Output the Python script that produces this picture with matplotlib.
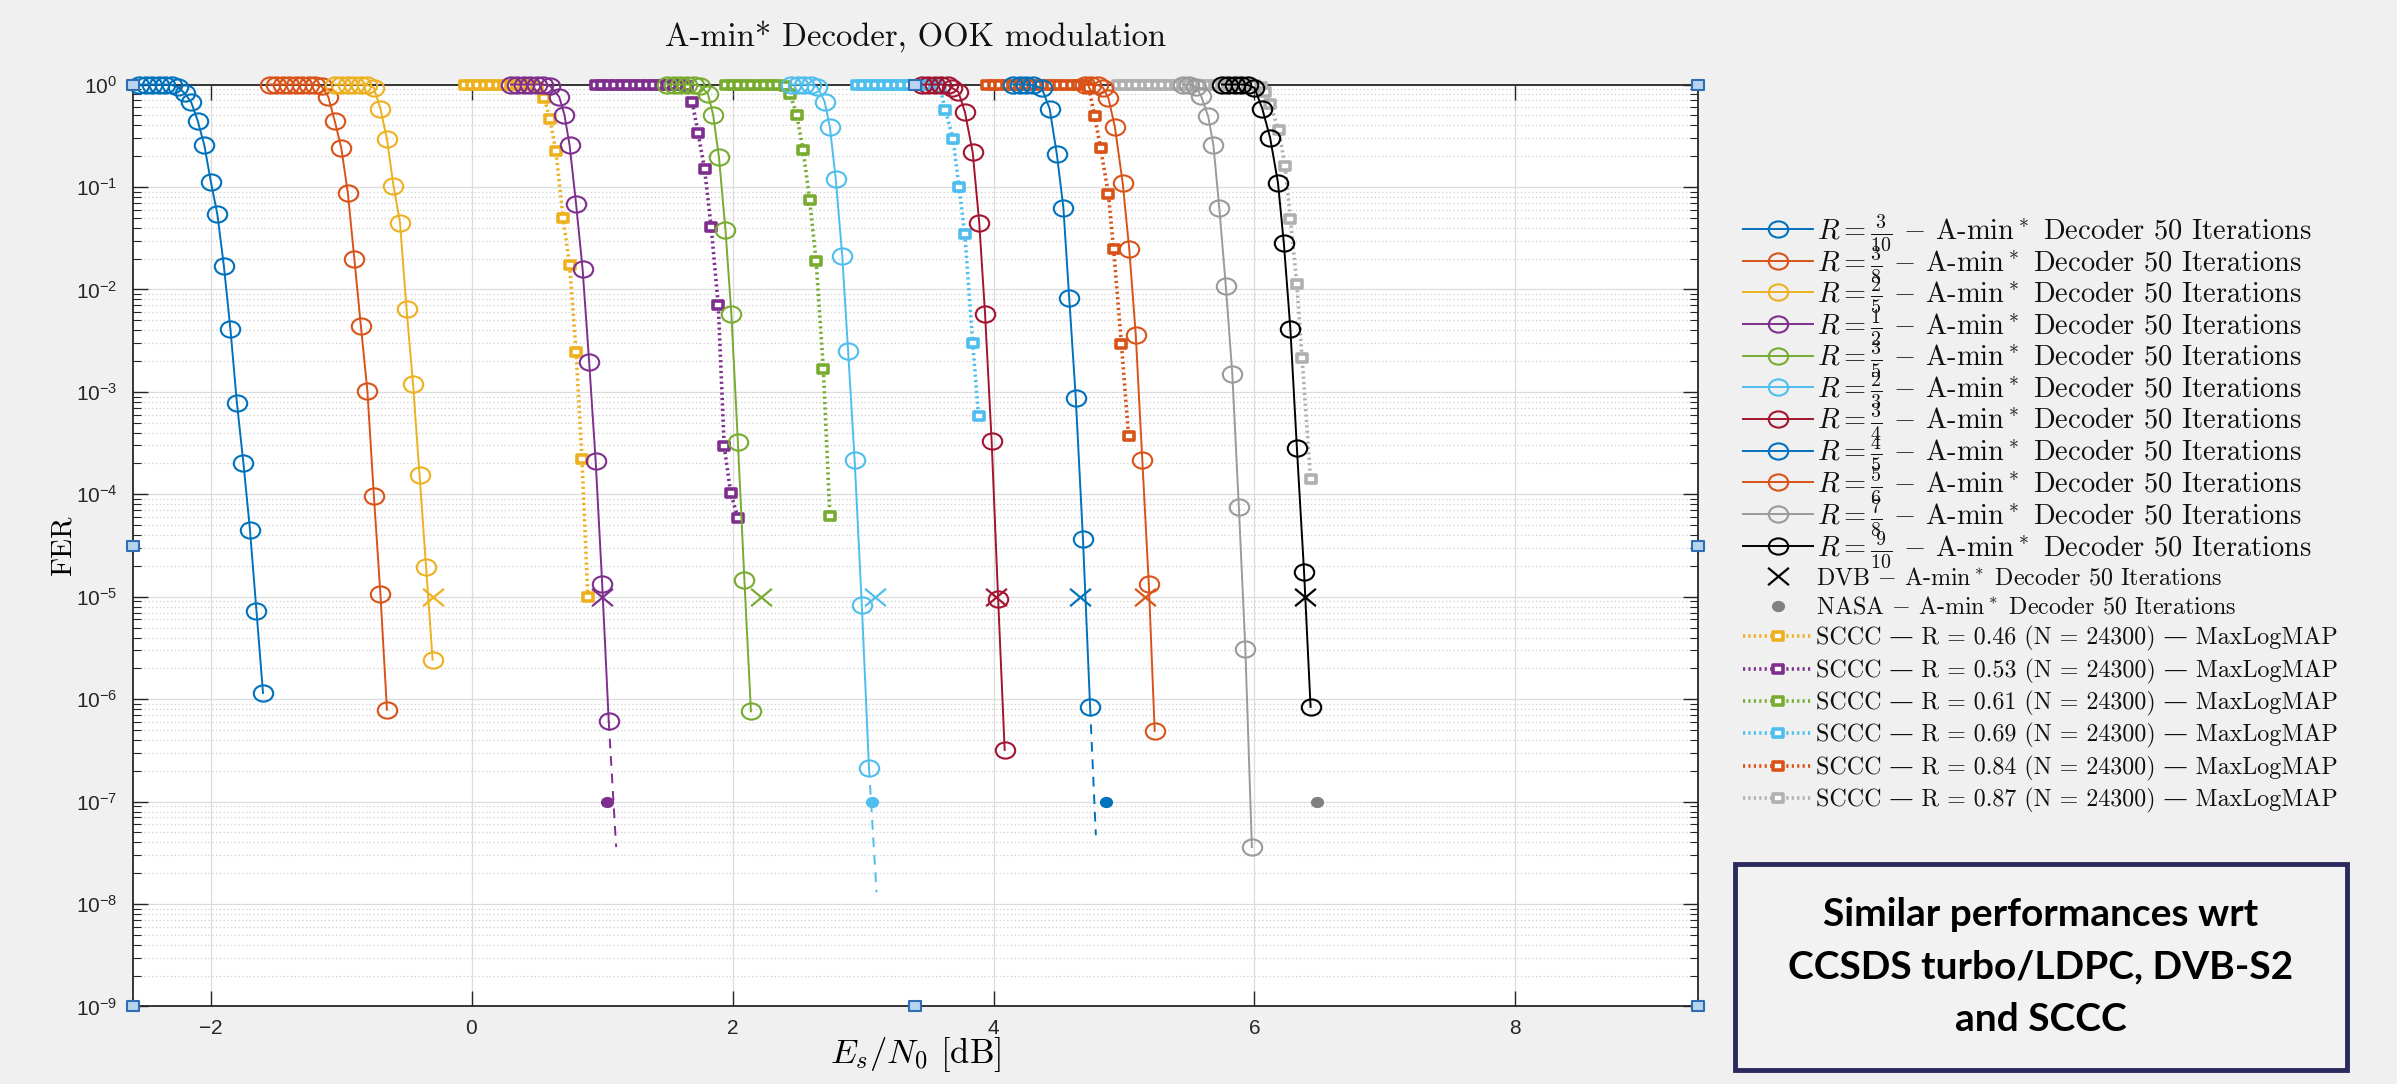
import numpy as np
import matplotlib
matplotlib.use('Agg')
import matplotlib.pyplot as plt
from matplotlib.path import Path
from matplotlib.transforms import Affine2D
from matplotlib.lines import Line2D
from matplotlib.patches import Rectangle
from matplotlib.ticker import LogLocator, NullLocator, NullFormatter

plt.rcParams['mathtext.fontset'] = 'dejavusans'
plt.rcParams['axes.formatter.use_mathtext'] = True
serif = ['cmr10', 'DejaVu Serif']

# ---- data (Es/N0 in dB, FER) ----
x_r310 = [-2.55, -2.5, -2.45, -2.4, -2.35, -2.3, -2.25, -2.2, -2.15, -2.1, -2.05, -2.0,
          -1.95, -1.9, -1.85, -1.8, -1.75, -1.7, -1.65, -1.6]
y_r310 = [1, 1, 1, 1, 1, 0.99, 0.94, 0.82, 0.67, 0.44, 0.256, 0.113,
          0.054, 0.017, 0.0041, 7.8e-4, 2.0e-4, 4.5e-5, 7.2e-6, 1.15e-6]
x_r38 = [-1.55, -1.5, -1.45, -1.4, -1.35, -1.3, -1.25, -1.2, -1.15, -1.1, -1.05, -1.0,
         -0.95, -0.9, -0.85, -0.8, -0.75, -0.7, -0.65]
y_r38 = [1, 1, 1, 1, 1, 1, 1, 0.99, 0.96, 0.76, 0.44, 0.24,
         0.088, 0.020, 0.0044, 1.03e-3, 9.6e-5, 1.06e-5, 7.9e-7]
x_r25 = [-1.05, -1.0, -0.95, -0.9, -0.85, -0.8, -0.75, -0.7, -0.65, -0.6, -0.55, -0.5,
         -0.45, -0.4, -0.35, -0.3]
y_r25 = [1, 1, 1, 1, 1, 0.99, 0.93, 0.58, 0.294, 0.103, 0.045, 6.5e-3,
         1.19e-3, 1.54e-4, 1.95e-5, 2.43e-6]
x_r12 = [0.3, 0.35, 0.4, 0.45, 0.5, 0.55, 0.6, 0.67, 0.71, 0.75, 0.8, 0.85, 0.9, 0.95, 1.0, 1.05]
y_r12 = [1, 1, 1, 1, 1, 1, 0.97, 0.76, 0.51, 0.256, 0.068, 0.0157, 1.96e-3, 2.1e-4, 1.33e-5, 6.1e-7]
x_r35 = [1.5, 1.55, 1.6, 1.65, 1.7, 1.75, 1.81, 1.85, 1.895, 1.945, 1.99, 2.04, 2.09, 2.14]
y_r35 = [1, 1, 1, 1, 1, 0.97, 0.815, 0.51, 0.195, 0.038, 5.8e-3, 3.26e-4, 1.46e-5, 7.6e-7]
x_r23 = [2.45, 2.5, 2.55, 2.6, 2.65, 2.705, 2.745, 2.79, 2.84, 2.885, 2.935, 2.99, 3.045]
y_r23 = [1, 1, 1, 0.99, 0.95, 0.68, 0.386, 0.121, 0.0212, 2.5e-3, 2.17e-4, 8.3e-6, 2.15e-7]
x_r34 = [3.45, 3.5, 3.55, 3.6, 3.65, 3.68, 3.73, 3.78, 3.84, 3.89, 3.935, 3.985, 4.035, 4.085]
y_r34 = [1, 1, 1, 1, 0.99, 0.93, 0.85, 0.542, 0.218, 0.045, 5.7e-3, 3.35e-4, 9.5e-6, 3.2e-7]
x_r45 = [4.15, 4.2, 4.25, 4.3, 4.37, 4.43, 4.485, 4.535, 4.58, 4.63, 4.685, 4.74]
y_r45 = [1, 1, 1, 0.99, 0.92, 0.58, 0.209, 0.063, 8.2e-3, 8.8e-4, 3.7e-5, 8.4e-7]
x_r56 = [4.7, 4.75, 4.8, 4.84, 4.88, 4.93, 4.99, 5.04, 5.09, 5.14, 5.19, 5.235]
y_r56 = [1, 1, 0.99, 0.93, 0.74, 0.386, 0.109, 0.0247, 3.6e-3, 2.17e-4, 1.33e-5, 4.9e-7]
x_r78 = [5.45, 5.5, 5.55, 5.59, 5.645, 5.685, 5.73, 5.78, 5.83, 5.88, 5.93, 5.98]
y_r78 = [1, 1, 0.95, 0.78, 0.49, 0.256, 0.063, 0.0109, 1.5e-3, 7.6e-5, 3.1e-6, 3.6e-8]
x_r910 = [5.75, 5.8, 5.85, 5.9, 5.95, 6.0, 6.06, 6.12, 6.18, 6.225, 6.275, 6.325, 6.38, 6.43]
y_r910 = [1, 1, 1, 1, 0.99, 0.93, 0.58, 0.302, 0.11, 0.0283, 4.15e-3, 2.84e-4, 1.75e-5, 8.4e-7]

# dashed extrapolations below the last simulated point
ext_x_r12 = [1.05, 1.107]
ext_y_r12 = [6.1e-7, 3.6e-8]
ext_x_r23 = [3.045, 3.103]
ext_y_r23 = [2.15e-7, 1.3e-8]
ext_x_r45 = [4.74, 4.784]
ext_y_r45 = [8.4e-7, 4.7e-8]

# SCCC, MaxLogMAP
x_s046 = [-0.05, 0.0, 0.05, 0.1, 0.15, 0.2, 0.25, 0.3, 0.35, 0.4, 0.45,
          0.5, 0.555, 0.6, 0.645, 0.7, 0.75, 0.8, 0.845, 0.89]
y_s046 = [1, 1, 1, 1, 1, 1, 1, 1, 1, 1, 0.99,
          0.95, 0.74, 0.46, 0.224, 0.05, 0.0175, 2.45e-3, 2.2e-4, 1.0e-5]
x_s053 = [0.95, 1.0, 1.05, 1.1, 1.15, 1.2, 1.25, 1.3, 1.35, 1.4, 1.45, 1.5, 1.55, 1.6, 1.65,
          1.69, 1.735, 1.785, 1.835, 1.89, 1.935, 1.985, 2.04]
y_s053 = [1, 1, 1, 1, 1, 1, 1, 1, 1, 1, 1, 1, 1, 1, 0.97,
          0.68, 0.336, 0.149, 0.0408, 6.97e-3, 2.96e-4, 1.03e-4, 5.9e-5]
x_s061 = [1.95, 2.0, 2.05, 2.1, 2.15, 2.2, 2.25, 2.3, 2.35, 2.4,
          2.44, 2.49, 2.54, 2.59, 2.64, 2.695, 2.745]
y_s061 = [1, 1, 1, 1, 1, 1, 1, 1, 1, 0.97,
          0.81, 0.51, 0.23, 0.0754, 0.0188, 1.67e-3, 6.2e-5]
x_s069 = [2.95, 3.0, 3.05, 3.1, 3.15, 3.2, 3.25, 3.3, 3.35, 3.4, 3.45, 3.5, 3.55, 3.59,
          3.63, 3.69, 3.735, 3.78, 3.84, 3.885]
y_s069 = [1, 1, 1, 1, 1, 1, 1, 1, 1, 1, 1, 1, 0.99, 0.93,
          0.565, 0.294, 0.099, 0.0347, 3.0e-3, 5.8e-4]
x_s084 = [3.95, 4.0, 4.05, 4.1, 4.15, 4.2, 4.25, 4.3, 4.35, 4.4, 4.45, 4.5, 4.55, 4.6, 4.65,
          4.7, 4.73, 4.775, 4.82, 4.88, 4.92, 4.98, 5.035]
y_s084 = [1, 1, 1, 1, 1, 1, 1, 1, 1, 1, 1, 1, 1, 1, 1,
          0.99, 0.93, 0.49, 0.24, 0.0863, 0.0247, 2.95e-3, 3.7e-4]
x_s087 = [4.95, 5.0, 5.05, 5.1, 5.15, 5.2, 5.25, 5.3, 5.35, 5.4, 5.45, 5.5, 5.55, 5.6,
          5.65, 5.7, 5.75, 5.8, 5.85, 5.9, 5.95, 6.0, 6.05, 6.08,
          6.12, 6.185, 6.235, 6.275, 6.325, 6.365, 6.43]
y_s087 = [1, 1, 1, 1, 1, 1, 1, 1, 1, 1, 1, 1, 1, 1,
          1, 1, 1, 1, 1, 1, 1, 0.99, 0.95, 0.85,
          0.647, 0.36, 0.159, 0.0488, 0.0112, 2.13e-3, 1.4e-4]

# reference points
dvb_x = [-0.3, 1.0, 2.22, 3.09, 4.02, 4.66, 5.16, 6.39]
dvb_y = [1e-5, 1e-5, 1e-5, 1e-5, 1e-5, 1e-5, 1e-5, 1e-5]
nasa_x = [1.04, 3.07, 4.86, 6.48]
nasa_y = [1e-7, 1e-7, 1e-7, 1e-7]

rate_num = [3, 3, 2, 1, 3, 2, 3, 4, 5, 7, 9]
rate_den = [10, 8, 5, 2, 5, 3, 4, 5, 6, 8, 10]
sccc_rate = ['0.46', '0.53', '0.61', '0.69', '0.84', '0.87']

# ---- styles ----
c_blue, c_orange, c_yellow, c_purple = '#0072BD', '#D95319', '#EDB120', '#7E2F8E'
c_green, c_cyan, c_red = '#77AC30', '#4DBEEE', '#A2142F'
c_gray, c_lgray, c_black = '#9a9a9a', '#b0b0b0', '#000000'

r_cols = [c_blue, c_orange, c_yellow, c_purple, c_green, c_cyan, c_red,
          c_blue, c_orange, c_gray, c_black]
s_cols = [c_yellow, c_purple, c_green, c_cyan, c_orange, c_lgray]
dvb_cols = [c_yellow, c_purple, c_green, c_cyan, c_red, c_blue, c_orange, c_black]
nasa_cols = [c_purple, c_cyan, c_blue, '#808080']

# the source screenshot is stretched sideways, so markers are a bit wide
oval = Affine2D().scale(1.2, 1.0).transform_path(Path.unit_circle())
box = Affine2D().translate(-0.5, -0.5).scale(1.2, 1.0).transform_path(Path.unit_rectangle())
cross = Path([(-0.6, -0.5), (0.6, 0.5), (-0.6, 0.5), (0.6, -0.5)],
             [Path.MOVETO, Path.LINETO, Path.MOVETO, Path.LINETO])

fig = plt.figure(figsize=(23.97, 10.84), dpi=100, facecolor='#f0f0f0')
ax = fig.add_axes([0.0553, 0.0715, 0.6531, 0.8505])
ax.set_facecolor('white')

r_x = [x_r310, x_r38, x_r25, x_r12, x_r35, x_r23, x_r34, x_r45, x_r56, x_r78, x_r910]
r_y = [y_r310, y_r38, y_r25, y_r12, y_r35, y_r23, y_r34, y_r45, y_r56, y_r78, y_r910]
r_handles = []
for xs, ys, col, n, d in zip(r_x, r_y, r_cols, rate_num, rate_den):
    lab = r'$R = \frac{%d}{%d}$ $-$ A-min$^*$ Decoder 50 Iterations' % (n, d)
    h, = ax.plot(xs, ys, '-', color=col, lw=1.4, marker=oval, ms=14, mfc='none',
                 mec=col, mew=1.5, clip_on=False, zorder=4, label=lab)
    r_handles.append(h)

for xs, ys, col in [(ext_x_r12, ext_y_r12, c_purple), (ext_x_r23, ext_y_r23, c_cyan),
                    (ext_x_r45, ext_y_r45, c_blue)]:
    ax.plot(xs, ys, color=col, lw=1.4, ls=(0, (5, 4)), zorder=4)

s_x = [x_s046, x_s053, x_s061, x_s069, x_s084, x_s087]
s_y = [y_s046, y_s053, y_s061, y_s069, y_s084, y_s087]
s_handles = []
for xs, ys, col, rr in zip(s_x, s_y, s_cols, sccc_rate):
    lab = 'SCCC — R = %s (N = 24300) — MaxLogMAP' % rr
    h, = ax.plot(xs, ys, color=col, lw=2.6, ls=(0, (0.6, 0.9)), marker=box, ms=7.5,
                 mfc='white', mec=col, mew=2.6, clip_on=False, zorder=3, label=lab)
    s_handles.append(h)

for xv, yv, col in zip(dvb_x, dvb_y, dvb_cols):
    ax.plot([xv], [yv], ls='none', marker=cross, ms=15, mec=col, mfc='none', mew=1.6, zorder=5)
for xv, yv, col in zip(nasa_x, nasa_y, nasa_cols):
    ax.plot([xv], [yv], ls='none', marker=oval, ms=8.5, mec=col, mfc=col, zorder=5)

# axes edit-mode handles seen in the screenshot
ax.plot([0, 0.5, 1, 0, 1, 0, 0.5, 1], [0, 0, 0, 0.5, 0.5, 1, 1, 1], ls='none', marker=box,
        ms=9, mfc='#b8d4ee', mec='#2f6db5', mew=1.5, transform=ax.transAxes,
        clip_on=False, zorder=10)

ax.set_yscale('log')
ax.set_xlim(-2.6, 9.4)
ax.set_ylim(1e-9, 1)
ax.set_xticks([-2, 0, 2, 4, 6, 8])
ax.xaxis.set_minor_locator(NullLocator())
ax.yaxis.set_major_locator(LogLocator(base=10, numticks=20))
ax.yaxis.set_minor_locator(LogLocator(base=10, subs=[2, 3, 4, 5, 6, 7, 8, 9], numticks=20))
ax.yaxis.set_minor_formatter(NullFormatter())

ax.set_axisbelow(True)
ax.grid(True, which='major', axis='both', color='#dcdcdc', lw=0.9, ls='-')
ax.grid(True, which='minor', axis='y', color='#cfcfcf', lw=0.9, ls=(0, (1, 2)))
ax.tick_params(which='both', direction='in', top=True, right=True, color='#262626',
               labelcolor='#262626', labelsize=15, labelfontfamily='Liberation Sans')
ax.tick_params(which='major', length=11, width=1.0)
ax.tick_params(which='minor', length=5.5, width=0.8)
ax.tick_params(axis='x', pad=9)
ax.tick_params(axis='y', pad=11)
for sp in ax.spines.values():
    sp.set_color('#262626')
    sp.set_linewidth(1.3)

ax.set_title('A-min* Decoder, OOK modulation', family=serif, fontsize=23.5, pad=28, color='#111111')
ax.set_xlabel(r'$E_s/N_0$ [dB]', family=serif, fontsize=25, labelpad=-2, math_fontfamily='cm')
ax.set_ylabel('FER', family=serif, fontsize=21)
ax.yaxis.set_label_coords(-0.036, 0.5)

# legend, two blocks so the row pitch matches
dvb_proxy = Line2D([], [], ls='none', marker=cross, ms=15, mec='black', mfc='none', mew=1.6)
nasa_proxy = Line2D([], [], ls='none', marker=oval, ms=8.5, mec='#808080', mfc='#808080')
leg_kw = dict(loc='upper left', frameon=False, borderpad=0, borderaxespad=0, handletextpad=0.15)
leg1 = fig.legend(handles=r_handles, bbox_to_anchor=(0.7272, 0.8045), labelspacing=-0.318,
                  handlelength=2.46, prop={'family': serif, 'size': 20.5}, **leg_kw)
leg2 = fig.legend(handles=[dvb_proxy, nasa_proxy] + s_handles,
                  labels=['DVB $-$ A-min$^*$ Decoder 50 Iterations',
                          'NASA $-$ A-min$^*$ Decoder 50 Iterations'] + [h.get_label() for h in s_handles],
                  bbox_to_anchor=(0.7272, 0.4765), labelspacing=0.30,
                  handlelength=2.9, prop={'family': serif, 'size': 17.3}, **leg_kw)
for lg in (leg1, leg2):
    for t in lg.get_texts():
        t.set_math_fontfamily('cm')
        t.set_color('#111111')

fig.add_artist(Rectangle((0.7238, 0.0129), 0.2553, 0.190, transform=fig.transFigure,
                         fc='#f2f2f2', ec='#2b2a5e', lw=3.5))
fig.text(0.8515, 0.108, 'Similar performances wrt\nCCSDS turbo/LDPC, DVB-S2\nand SCCC',
         ha='center', va='center', fontsize=28, fontweight='bold', family='Lato',
         linespacing=1.6, color='black')

fig.savefig('out.png', dpi=100, facecolor=fig.get_facecolor())
